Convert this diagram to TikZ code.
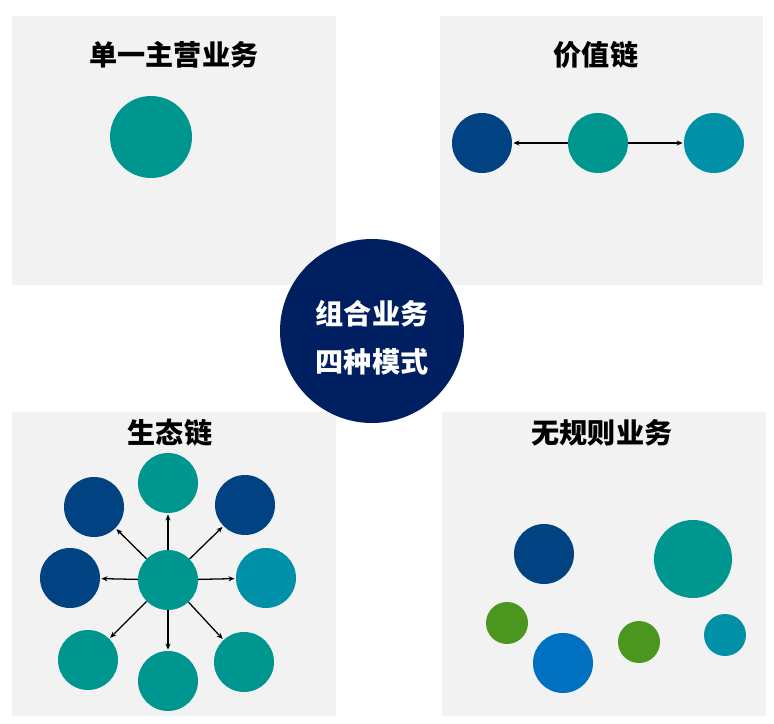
\documentclass[tikz,border=0pt]{standalone}
\usepackage{fontspec}
\usepackage{tikz}
\usetikzlibrary{arrows.meta, positioning, calc}
\newfontfamily\cjk{Noto Sans CJK SC}
\definecolor{panelbg}{RGB}{242, 242, 242}
\definecolor{navy}{RGB}{0, 31, 96}
\definecolor{darkblue}{RGB}{0, 66, 130}
\definecolor{teal}{RGB}{0, 150, 144}
\definecolor{lightteal}{RGB}{0, 145, 168}
\definecolor{leafgreen}{RGB}{74, 150, 30}
\definecolor{midblue}{RGB}{0, 112, 192}

\begin{document}
\begin{tikzpicture}[
    x=0.03cm, y=-0.03cm,
    bub/.style={circle, draw=none, inner sep=0pt,
                minimum size=#1},
    bub/.default=1.8cm,
    title/.style={font=\cjk\bfseries\fontsize{24}{28}\selectfont},
    link/.style={-{Stealth[length=1.8mm, width=1.5mm]},
                 line width=1.1pt, shorten >=1pt, shorten <=0pt},
]
\useasboundingbox (0,0) rectangle (774,724);

% -- Panels ---------------------------------
\fill[panelbg] (12,16)  rectangle (336,285);
\fill[panelbg] (440,16) rectangle (763,285);
\fill[panelbg] (12,412) rectangle (336,716);
\fill[panelbg] (442,412) rectangle (766,716);

% -- Titles ---------------------------------
\node[title] (t1) at (174,55)  {单一主营业务};
\node[title] (t2) at (596,55)  {价值链};
\node[title] (t3) at (170,433) {生态链};
\node[title] (t4) at (602,433) {无规则业务};

% -- Single business ------------------------
\node[bub=2.46cm, fill=teal] (s) at (151,137) {};

% -- Value chain ----------------------------
\node[bub, fill=darkblue]  (v1) at (482,143) {};
\node[bub, fill=teal]      (v2) at (598,143) {};
\node[bub, fill=lightteal] (v3) at (714,143) {};
\draw[link] (v2) -- (v1);
\draw[link] (v2) -- (v3);

% -- Ecosystem ------------------------------
\node[bub, fill=teal]      (e0) at (168,580) {};
\node[bub, fill=teal]      (e1) at (168,483) {};
\node[bub, fill=darkblue]  (e2) at (245,505) {};
\node[bub, fill=lightteal] (e3) at (266,578) {};
\node[bub, fill=teal]      (e4) at (244,662) {};
\node[bub, fill=teal]      (e5) at (168,681) {};
\node[bub, fill=teal]      (e6) at (88,660)  {};
\node[bub, fill=darkblue]  (e7) at (70,578)  {};
\node[bub, fill=darkblue]  (e8) at (94,507)  {};
\foreach \i in {1,...,8}
    \draw[link] (e0) -- (e\i);

% -- Irregular ------------------------------
\node[bub, fill=darkblue]       (r1) at (544,554) {};
\node[bub=2.34cm, fill=teal]    (r2) at (693,559) {};
\node[bub=1.26cm, fill=leafgreen] (r3) at (507,623) {};
\node[bub, fill=midblue]        (r4) at (563,663) {};
\node[bub=1.26cm, fill=leafgreen] (r5) at (639,642) {};
\node[bub=1.26cm, fill=lightteal] (r6) at (725,635) {};

% -- Centre ---------------------------------
\node[bub=5.52cm, fill=navy] (c) at (372,331) {};
\node[text=white, align=center,
      font=\cjk\bfseries\fontsize{24}{41}\selectfont]
    (ct) at ($(c)+(0,7)$) {组合业务\\四种模式};

\end{tikzpicture}
\end{document}
